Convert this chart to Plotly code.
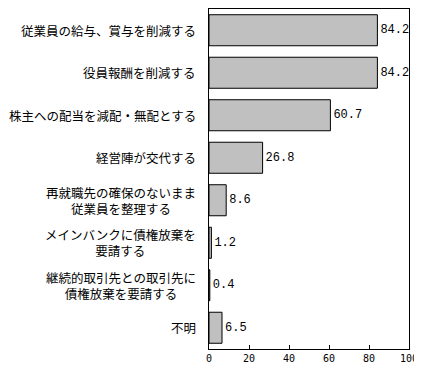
import plotly.graph_objects as go

categories = [
    "従業員の給与、賞与を削減する",
    "役員報酬を削減する",
    "株主への配当を減配・無配とする",
    "経営陣が交代する",
    "再就職先の確保のないまま<br>従業員を整理する",
    "メインバンクに債権放棄を<br>要請する",
    "継続的取引先との取引先に<br>債権放棄を要請する",
    "不明",
]
values = [84.2, 84.2, 60.7, 26.8, 8.6, 1.2, 0.4, 6.5]
value_labels = ["84.2", "84.2", "60.7", "26.8", "8.6", "1.2", "0.4", "6.5"]
x_ticks = [0, 20, 40, 60, 80, 100]

fig = go.Figure()
fig.add_trace(go.Bar(
    y=categories, x=values, orientation="h",
    marker=dict(color="#C0C0C0", line=dict(color="black", width=1)),
    text=value_labels, textposition="outside", cliponaxis=False,
    textfont=dict(family="Liberation Mono, DejaVu Sans Mono", size=12, color="black"),
    hoverinfo="skip",
))

for c in categories:
    fig.add_annotation(
        x=0, y=c, xref="paper", yref="y", xanchor="right", yanchor="middle",
        xshift=-11, text=c, showarrow=False, align="center",
        font=dict(family="Noto Sans CJK JP", size=12.5, color="black"),
    )

# the page body adds an 8px margin, so the figure is sized smaller
fig.update_layout(
    width=414, height=362,
    margin=dict(l=201, r=13, t=1, b=21, autoexpand=False),
    paper_bgcolor="white", plot_bgcolor="white",
    showlegend=False, bargap=0.27,
    font=dict(family="Noto Sans CJK JP", size=12, color="black"),
)
fig.update_xaxes(
    range=[0, 100], tickvals=x_ticks, ticktext=[str(v) for v in x_ticks],
    showgrid=False, zeroline=False, showline=True, linecolor="black", linewidth=1,
    mirror=True, ticks="inside", ticklen=4, tickcolor="black", automargin=False,
    tickfont=dict(family="DejaVu Sans Mono", size=10, color="black"),
)
fig.update_yaxes(
    categoryorder="array", categoryarray=categories, autorange="reversed",
    showticklabels=False, showgrid=False, zeroline=False, showline=True,
    linecolor="black", linewidth=1, mirror=True, ticks="", automargin=False,
)

fig.write_html("out.html")
